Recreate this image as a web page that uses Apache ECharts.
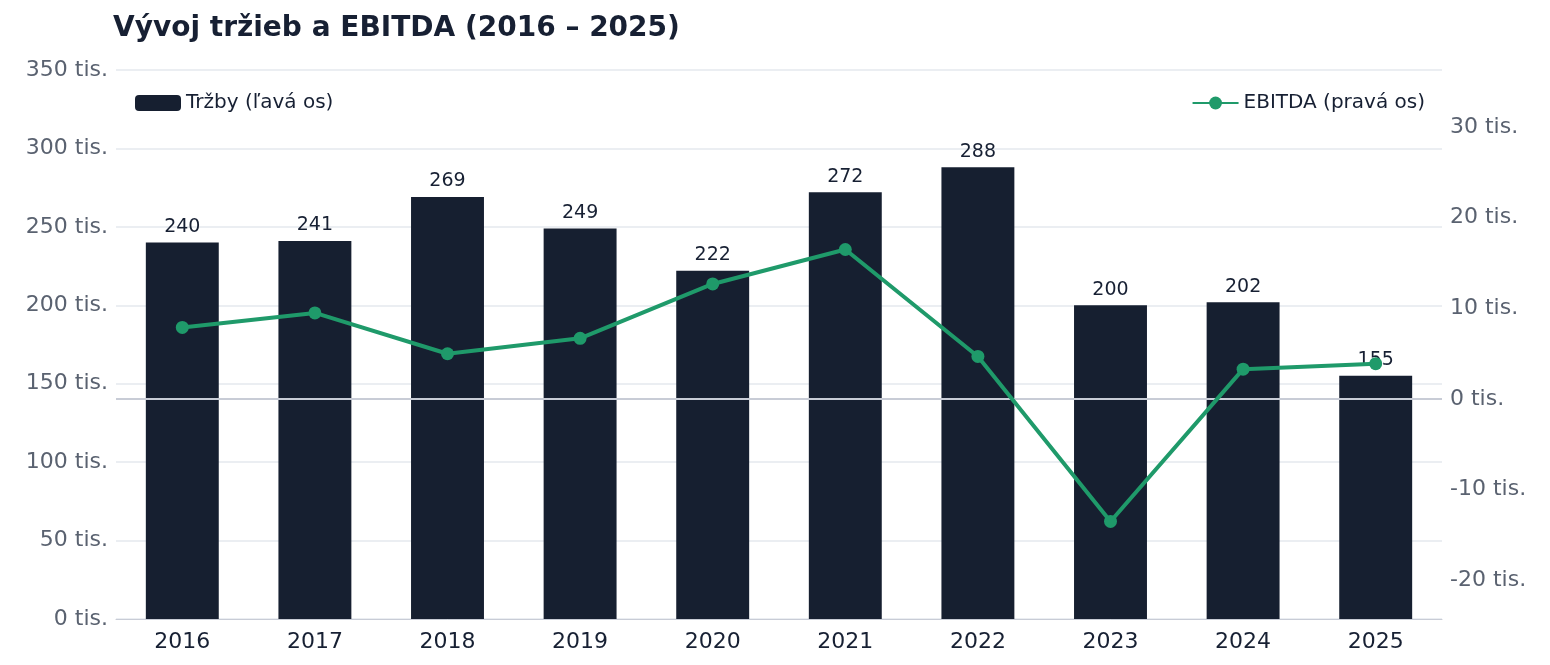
<!DOCTYPE html>
<html><head><meta charset="utf-8">
<script src="https://cdn.jsdelivr.net/npm/echarts@6/dist/echarts.min.js"></script>
<style>html,body{margin:0;padding:0;background:#fff}#c{width:1550px;height:665px}</style>
</head><body><div id="c"></div>
<script>
const categories = ['2016','2017','2018','2019','2020','2021','2022','2023','2024','2025'];
const revenue = [240,241,269,249,222,272,288,200,202,155];
const ebitda = [7.9,9.5,5.0,6.7,12.7,16.5,4.7,-13.5,3.3,3.9];
const rightTicks = [-20,-10,0,10,20,30];
const font = 'DejaVu Sans';
const chart = echarts.init(document.getElementById('c'));
chart.setOption({
  animation:false,
  textStyle:{fontFamily:font},
  title:{text:'Vývoj tržieb a EBITDA (2016 – 2025)',left:108,top:10,textStyle:{fontFamily:font,fontSize:28,fontWeight:'bold',color:'#172033'}},
  legend:[
    {data:['Tržby (ľavá os)'],left:130,top:88,itemWidth:46,itemHeight:16,textStyle:{fontSize:20,color:'#172033'}},
    {data:['EBITDA (pravá os)'],right:120,top:88,itemWidth:46,itemHeight:16,textStyle:{fontSize:20,color:'#172033'}}
  ],
  grid:{left:116,right:108,top:70,bottom:46},
  xAxis:{type:'category',data:categories,axisTick:{show:false},
    axisLine:{lineStyle:{color:'#c8ccd6'}},axisLabel:{fontSize:22,color:'#172033',margin:12}},
  yAxis:[
    {type:'value',min:0,max:350,interval:50,axisLabel:{formatter:'{value} tis.',fontSize:22,color:'#5a6270',margin:8},
      splitLine:{lineStyle:{color:'#e5e8ee',width:1.5}},axisLine:{show:false},axisTick:{show:false}},
    {type:'value',min:-24.26,max:36.3,splitLine:{show:false},axisLine:{show:false},axisTick:{show:false},
      axisLabel:{customValues:rightTicks,formatter:'{value} tis.',fontSize:22,color:'#5a6270',margin:8}}
  ],
  series:[
    {name:'Tržby (ľavá os)',type:'bar',data:revenue,barWidth:'55%',itemStyle:{color:'#161f30'},
      label:{show:true,position:'top',fontSize:19,color:'#172033',distance:6}},
    {name:'EBITDA (pravá os)',type:'line',yAxisIndex:1,data:ebitda,symbol:'circle',symbolSize:13,
      lineStyle:{color:'#1f9a6a',width:4},itemStyle:{color:'#1f9a6a'},z:5,
      markLine:{silent:true,symbol:'none',label:{show:false},lineStyle:{color:'#c8ccd6',type:'solid',width:2},data:[{yAxis:0}]}}
  ]
});
</script></body></html>
